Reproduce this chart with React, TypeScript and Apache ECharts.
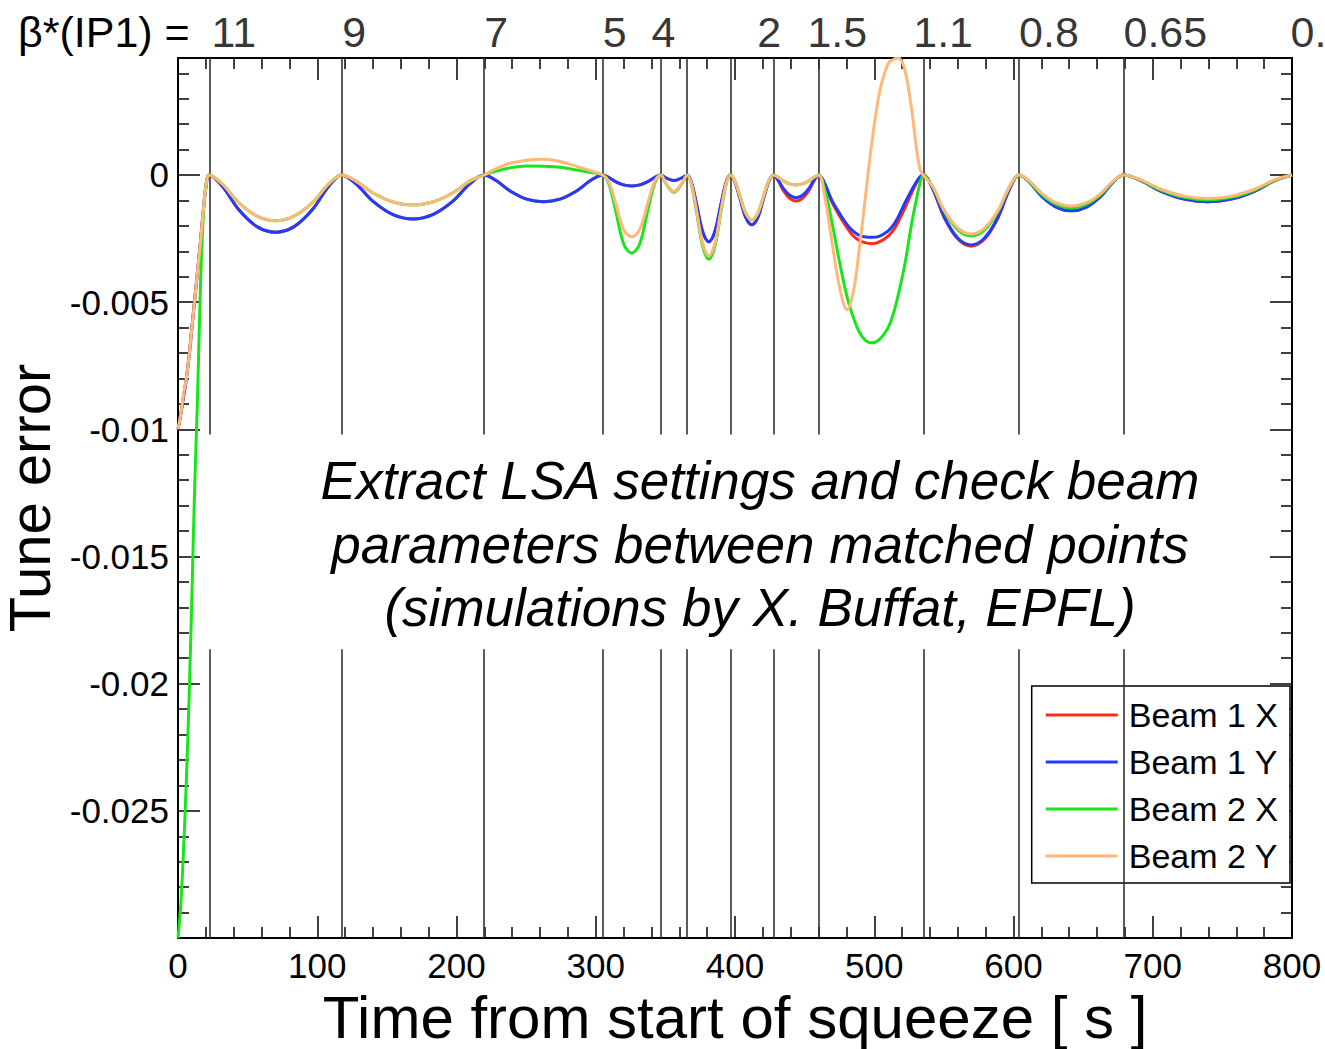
import React, { useEffect, useRef } from "react";
import * as echarts from "echarts";

const FONT = '"Liberation Sans", Arial, Helvetica, sans-serif';

// time samples [s] (segments between matched points)
const times = [
  0, 2, 4, 6, 8, 10, 12, 14, 16, 18, 20,
  22.5, 32, 43.4, 56.7, 70, 83.4, 96.7, 108.1,
  117.6, 127.8, 140.1, 154.4, 168.7, 182.9, 197.2, 209.5,
  219.7, 228.2, 238.5, 250.4, 262.4, 274.3, 286.2, 296.5,
  305, 309.2, 314.2, 320, 325.8, 331.6, 337.4, 342.4,
  346.6, 350.4, 356.2, 361.9,
  365.7, 368.8, 372.5, 376.8, 381.2, 385.5, 389.8, 393.5,
  396.6, 399.7, 403.4, 407.7, 412.1, 416.4, 420.7, 424.4,
  427.5, 430.8, 434.7, 439.3, 443.9, 448.5, 453.1, 457.0,
  460.3, 464.6, 469.4, 475, 480.5, 485, 489.5, 494, 498.2, 504, 510, 514, 517.3, 522, 526.9, 530.5, 533,
  535.2, 542.1, 550.3, 560, 569.6, 579.2, 588.9, 597.1,
  604, 611.5, 620.5, 631, 641.5, 652, 662.5, 671.5,
  679, 691.1, 705.6, 722.6, 739.5, 756.4, 773.4, 787.9, 800,
];

const beam1X = [
  -0.01, -0.0094, -0.0087, -0.008, -0.0071, -0.006, -0.0049, -0.0038, -0.0027, -0.0015, -0.0005,
  0, -0.00045, -0.00135, -0.00203, -0.00225, -0.00203, -0.00135, -0.00045,
  0, -0.00035, -0.00104, -0.00156, -0.00173, -0.00156, -0.00104, -0.00035,
  0, -0.00021, -0.00063, -0.00095, -0.00105, -0.00095, -0.00063, -0.00021,
  0, -0.00009, -0.00026, -0.00039, -0.00043, -0.00039, -0.00026, -0.00009,
  0, -0.00011, -0.00022, -0.00011,
  0, -0.00031, -0.00118, -0.00223, -0.00262, -0.00223, -0.00118, -0.00031,
  0, -0.00024, -0.00088, -0.00167, -0.00196, -0.00167, -0.00088, -0.00024,
  0, -0.0002, -0.00061, -0.00092, -0.00102, -0.00092, -0.00061, -0.0002,
  0, -0.00038, -0.00104, -0.0016, -0.00208, -0.0024, -0.00258, -0.00267, -0.0027, -0.00262, -0.0024, -0.00215, -0.00183, -0.0013, -0.0007, -0.0003, -0.00008,
  0, -0.00056, -0.00168, -0.00252, -0.0028, -0.00252, -0.00168, -0.00056,
  0, -0.00028, -0.00085, -0.00127, -0.00141, -0.00127, -0.00085, -0.00028,
  0, -0.00021, -0.00063, -0.00095, -0.00105, -0.00095, -0.00063, -0.00021, 0,
];

const beam1Y = [
  -0.01, -0.0094, -0.0087, -0.008, -0.0071, -0.006, -0.0049, -0.0038, -0.0027, -0.0015, -0.0005,
  0, -0.00045, -0.00135, -0.00203, -0.00225, -0.00203, -0.00135, -0.00045,
  0, -0.00035, -0.00104, -0.00156, -0.00173, -0.00156, -0.00104, -0.00035,
  0, -0.00021, -0.00063, -0.00095, -0.00105, -0.00095, -0.00063, -0.00021,
  0, -0.00009, -0.00026, -0.00039, -0.00043, -0.00039, -0.00026, -0.00009,
  0, -0.00011, -0.00022, -0.00011,
  0, -0.00031, -0.00118, -0.00223, -0.00262, -0.00223, -0.00118, -0.00031,
  0, -0.00024, -0.00088, -0.00167, -0.00196, -0.00167, -0.00088, -0.00024,
  0, -0.00018, -0.00053, -0.0008, -0.00089, -0.0008, -0.00053, -0.00018,
  0, -0.00035, -0.00098, -0.0015, -0.00195, -0.00222, -0.00238, -0.00244, -0.00245, -0.0024, -0.0022, -0.00195, -0.00164, -0.0011, -0.00059, -0.00025, -0.00006,
  0, -0.00055, -0.00165, -0.00248, -0.00275, -0.00248, -0.00165, -0.00055,
  0, -0.00028, -0.00085, -0.00127, -0.00141, -0.00127, -0.00085, -0.00028,
  0, -0.00021, -0.00063, -0.00095, -0.00105, -0.00095, -0.00063, -0.00021, 0,
];

const beam2X = [
  -0.03, -0.0287, -0.0265, -0.0238, -0.0205, -0.0165, -0.0122, -0.0088, -0.0046, -0.0018, -0.0004,
  0, -0.00036, -0.00108, -0.00162, -0.0018, -0.00162, -0.00108, -0.00036,
  0, -0.00024, -0.00071, -0.00106, -0.00118, -0.00106, -0.00071, -0.00024,
  0, 0.00015, 0.00028, 0.00035, 0.00034, 0.0003, 0.0002, 0.0001,
  0, -0.00031, -0.00138, -0.0027, -0.00307, -0.0027, -0.00138, -0.00031,
  0, -0.00034, -0.00068, -0.00034,
  0, -0.0004, -0.00149, -0.00281, -0.00331, -0.00281, -0.00149, -0.0004,
  0, -0.00021, -0.0008, -0.0015, -0.00177, -0.0015, -0.0008, -0.00021,
  0, -0.00008, -0.00023, -0.00035, -0.00039, -0.00035, -0.00023, -0.00008,
  0, -0.0006, -0.0018, -0.0034, -0.0048, -0.0056, -0.0062, -0.00652, -0.0066, -0.00645, -0.006, -0.0054, -0.0047, -0.0035, -0.0019, -0.0009, -0.0003,
  0, -0.00048, -0.00144, -0.00216, -0.0024, -0.00216, -0.00144, -0.00048,
  0, -0.00026, -0.00078, -0.00117, -0.0013, -0.00117, -0.00078, -0.00026,
  0, -0.0002, -0.00059, -0.00088, -0.00098, -0.00088, -0.00059, -0.0002, 0,
];

const beam2Y = [
  -0.01, -0.0094, -0.0086, -0.008, -0.0071, -0.006, -0.0049, -0.0038, -0.0027, -0.0015, -0.0005,
  0, -0.00036, -0.00108, -0.00162, -0.0018, -0.00162, -0.00108, -0.00036,
  0, -0.00024, -0.00071, -0.00106, -0.00118, -0.00106, -0.00071, -0.00024,
  0, 0.00024, 0.00046, 0.00058, 0.00062, 0.00053, 0.00034, 0.00016,
  0, -0.00024, -0.00109, -0.00214, -0.00243, -0.00214, -0.00109, -0.00024,
  0, -0.00032, -0.00065, -0.00032,
  0, -0.00038, -0.00143, -0.0027, -0.00318, -0.0027, -0.00143, -0.00038,
  0, -0.00021, -0.0008, -0.0015, -0.00177, -0.0015, -0.0008, -0.00021,
  0, -0.00008, -0.00023, -0.00035, -0.00039, -0.00035, -0.00023, -0.00008,
  0, -0.0009, -0.00255, -0.0044, -0.0053, -0.0046, -0.0028, -0.0007, 0.00124, 0.0033, 0.00438, 0.00455, 0.0046, 0.00412, 0.00255, 0.00098, 0.0002,
  0, -0.00046, -0.00139, -0.00209, -0.00232, -0.00209, -0.00139, -0.00046,
  0, -0.00024, -0.00073, -0.0011, -0.00122, -0.0011, -0.00073, -0.00024,
  0, -0.00018, -0.00055, -0.00083, -0.00092, -0.00083, -0.00055, -0.00018, 0,
];

const seriesNames = ["Beam 1 X", "Beam 1 Y", "Beam 2 X", "Beam 2 Y"];
const seriesColors = ["#ff2a14", "#1f3cff", "#19e619", "#ffb878"];

// matched points (vertical lines) [s]
const matchedTimes = [22.7, 117.6, 219.7, 305, 346.6, 365.7, 396.6, 427.5, 460.3, 535.2, 604, 679];
// beta* labels along the top
const betaLabels = ["11", "9", "7", "5", "4", "2", "1.5", "1.1", "0.8", "0.65", "0.6"];
const betaLabelTimes = [24, 118, 220, 305, 340, 416, 452, 528, 604, 679, 799];

const yLabelValues = [-0.025, -0.02, -0.015, -0.01, -0.005, 0];
const X_MIN = 0;
const X_MAX = 800;
const Y_MIN = -0.03;
const Y_MAX = 0.0046;
const GAP_TOP = -0.0102;
const GAP_BOTTOM = -0.01865;

export default function App() {
  const ref = useRef<HTMLDivElement>(null);
  useEffect(() => {
    if (!ref.current) return;
    const chart = echarts.init(ref.current, undefined, { renderer: "svg" });
    const seriesArrays = [beam1X, beam1Y, beam2X, beam2Y];
    const tickStyle = { color: "#000", width: 1.5 };
    const xBase = {
      type: "value" as const,
      min: X_MIN,
      max: X_MAX,
      interval: 100,
      axisLine: { show: true, onZero: false, lineStyle: { color: "#000", width: 2 } },
      axisTick: { show: true, inside: true, length: 22, lineStyle: tickStyle },
      minorTick: { show: true, splitNumber: 5, length: 11, lineStyle: tickStyle },
      splitLine: { show: false },
      minorSplitLine: { show: false },
    };
    const yBase = {
      type: "value" as const,
      min: Y_MIN,
      max: Y_MAX,
      interval: 0.005,
      axisLine: { show: true, onZero: false, lineStyle: { color: "#000", width: 2 } },
      axisTick: { show: true, inside: true, length: 22, lineStyle: tickStyle },
      minorTick: { show: true, splitNumber: 5, length: 11, lineStyle: tickStyle },
      splitLine: { show: false },
      minorSplitLine: { show: false },
    };
    const lineSeries = seriesNames.map((name, i) => ({
      name,
      type: "line",
      xAxisIndex: 0,
      yAxisIndex: 0,
      data: times.map((t, k) => [t, seriesArrays[i][k]]),
      symbol: "none",
      showSymbol: false,
      smooth: 0.35,
      lineStyle: { color: seriesColors[i], width: 3 },
      itemStyle: { color: seriesColors[i] },
      z: 3 + i,
      silent: true,
    }));
    const markData: any[] = [];
    matchedTimes.forEach((t) => {
      markData.push([{ coord: [t, Y_MAX] }, { coord: [t, GAP_TOP] }]);
      markData.push([{ coord: [t, GAP_BOTTOM] }, { coord: [t, Y_MIN] }]);
    });
    const labelSeries = {
      name: "beta",
      type: "scatter",
      xAxisIndex: 0,
      yAxisIndex: 0,
      symbolSize: 1,
      itemStyle: { color: "rgba(0,0,0,0)" },
      clip: false,
      silent: true,
      z: 2,
      data: betaLabelTimes.map((t, i) => ({
        value: [t, Y_MAX],
        label: { formatter: betaLabels[i] },
      })),
      label: {
        show: true,
        position: "top",
        align: "left",
        verticalAlign: "bottom",
        distance: 4,
        fontSize: 43,
        fontFamily: FONT,
        color: "#000",
      },
      markLine: {
        silent: true,
        symbol: ["none", "none"],
        label: { show: false },
        lineStyle: { color: "#333", width: 1.6, type: "solid" },
        data: markData,
      },
    };
    chart.setOption({
      animation: false,
      textStyle: { fontFamily: FONT },
      grid: {
        left: 178,
        top: 58,
        right: 33,
        bottom: 111,
        containLabel: false,
        outerBoundsMode: "none",
      },
      legend: {
        data: seriesNames.map((n) => ({ name: n, icon: "rect" })),
        orient: "vertical",
        right: 35,
        top: 686,
        itemWidth: 72,
        itemHeight: 3,
        itemGap: 13,
        padding: [12, 12, 10, 14],
        borderColor: "#000",
        borderWidth: 1.5,
        backgroundColor: "#fff",
        selectedMode: false,
        textStyle: { fontSize: 34, lineHeight: 34, color: "#000", fontFamily: FONT, padding: [0, 0, 0, 6] },
      },
      xAxis: [
        {
          ...xBase,
          position: "bottom",
          axisLabel: { show: true, fontSize: 35, color: "#000", margin: 10, fontFamily: FONT },
          name: "Time from start of squeeze [ s ]",
          nameLocation: "middle",
          nameGap: 44,
          nameTextStyle: { fontSize: 60, lineHeight: 56, color: "#000", fontFamily: FONT },
        },
        { ...xBase, position: "top", axisLabel: { show: false } },
      ],
      yAxis: [
        {
          ...yBase,
          position: "left",
          axisLabel: {
            show: true,
            fontSize: 35,
            color: "#000",
            margin: 9,
            fontFamily: FONT,
            formatter: (v: number) => {
              const m = yLabelValues.find((l) => Math.abs(l - v) < 1e-9);
              return m === undefined ? "" : String(m);
            },
          },
          name: "Tune error",
          nameLocation: "middle",
          nameGap: 122,
          nameTextStyle: { fontSize: 58, lineHeight: 50, color: "#000", fontFamily: FONT },
        },
        { ...yBase, position: "right", axisLabel: { show: false } },
      ],
      graphic: [
        {
          type: "text",
          left: 18,
          top: 10,
          style: {
            text: "β*(IP1) =",
            fontSize: 43,
            fontFamily: FONT,
            fill: "#000",
          },
        },
        {
          type: "text",
          x: 760,
          y: 544,
          style: {
            text: "Extract LSA settings and check beam\nparameters between matched points\n(simulations by X. Buffat, EPFL)",
            fontSize: 53,
            fontStyle: "italic",
            fontFamily: FONT,
            lineHeight: 63.5,
            align: "center",
            verticalAlign: "middle",
            textAlign: "center",
            textVerticalAlign: "middle",
            fill: "#000",
          },
        },
      ],
      series: [labelSeries, ...lineSeries],
    });
    return () => chart.dispose();
  }, []);
  return (
    <div
      ref={ref}
      style={{ position: "absolute", left: 0, top: 0, width: 1325, height: 1049, background: "#fff" }}
    />
  );
}
